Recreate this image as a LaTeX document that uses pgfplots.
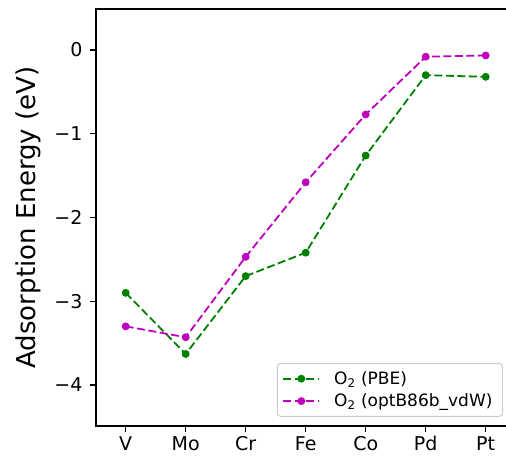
\documentclass[border=0pt]{standalone}
\usepackage{pgfplots}
\pgfplotsset{compat=1.18}
\usepackage{fontspec}
\setmainfont{DejaVu Sans}
\definecolor{mplgreen}{rgb}{0,0.5,0}
\definecolor{mplmag}{rgb}{0.75,0,0.75}
\begin{document}
\begin{tikzpicture}
\useasboundingbox (-96pt,-38pt) rectangle (410pt,426pt);
\begin{axis}[
  at={(0,0)}, anchor=south west,
  scale only axis, width=414pt, height=417pt,
  xmin=-0.495, xmax=6.405, ymin=-4.49, ymax=0.49,
  axis line style={line width=1.4pt},
  xtick={0,1,2,3,4,5,6},
  xticklabels={V,Mo,Cr,Fe,Co,Pd,Pt},
  ytick={-4,-3,-2,-1,0},
  yticklabels={−4,−3,−2,−1,0},
  xtick pos=left, ytick pos=left,
  tick align=outside,
  major tick length=6pt,
  tick style={black, line width=1.2pt},
  ticklabel style={font=\fontsize{19}{22}\selectfont},
  yticklabel style={xshift=-4pt},
  xticklabel style={yshift=-1pt},
  ylabel={Adsorption Energy (eV)},
  every axis y label/.style={at={(axis description cs:-0.163,0.5)}, anchor=center, rotate=90, font=\fontsize{26}{30}\selectfont},
  legend style={at={(axis description cs:0.983,0.022)}, anchor=south east,
    font=\fontsize{17}{20}\selectfont, draw=black!20, rounded corners=3pt,
    line width=1pt, row sep=4pt, inner xsep=5pt, inner ysep=6pt,
    nodes={inner xsep=5pt},
    /tikz/every odd column/.append style={column sep=9pt}},
  legend cell align=left,
  legend image code/.code={
    \draw[#1, line width=1.8pt, mark repeat=2, mark phase=2] plot coordinates {(0pt,0pt) (18pt,0pt) (36pt,0pt)};
  },
  clip=false,
]
\addplot[mplgreen, line width=1.8pt, dash pattern=on 8pt off 3.5pt, mark=*, mark size=3.5pt, mark options={solid, line width=0.8pt}]
  coordinates {(0,-2.90) (1,-3.63) (2,-2.70) (3,-2.42) (4,-1.26) (5,-0.30) (6,-0.32)};
\addlegendentry{O\textsubscript{2} (PBE)}
\addplot[mplmag, line width=1.8pt, dash pattern=on 8pt off 3.5pt, mark=*, mark size=3.5pt, mark options={solid, line width=0.8pt}]
  coordinates {(0,-3.30) (1,-3.43) (2,-2.47) (3,-1.58) (4,-0.77) (5,-0.08) (6,-0.065)};
\addlegendentry{O\textsubscript{2} (optB86b\_vdW)}
\end{axis}
\end{tikzpicture}
\end{document}
